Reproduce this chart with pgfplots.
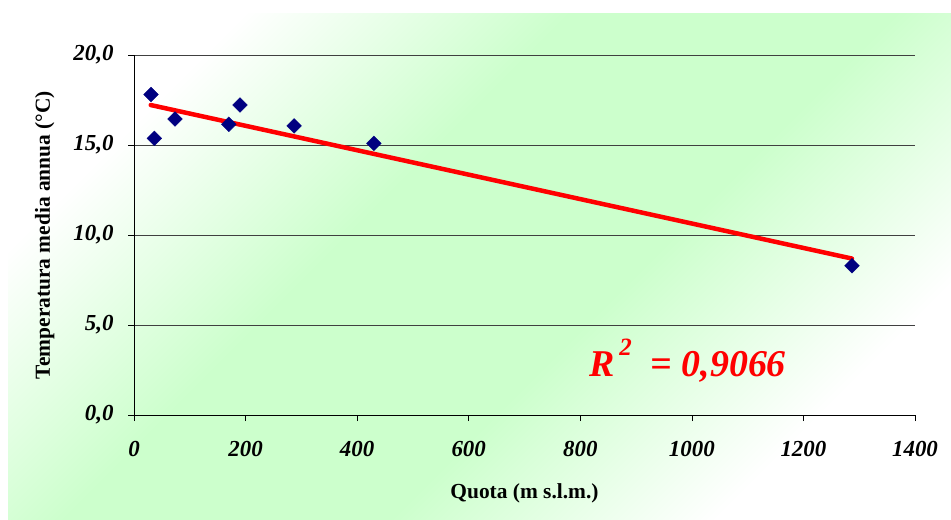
\documentclass[border=0pt]{standalone}
\usepackage{fontspec}
\setmainfont{Liberation Serif}
\usepackage{pgfplots}
\pgfplotsset{compat=1.18}
\definecolor{bggreen}{RGB}{204,255,204}
\definecolor{navyblue}{RGB}{0,0,128}
\pgfdeclareverticalshading{bgshade}{100bp}{color(0bp)=(white); color(26bp)=(white); color(42bp)=(bggreen); color(58bp)=(bggreen); color(74bp)=(white); color(100bp)=(white)}
\begin{document}
\begin{tikzpicture}
\path[use as bounding box] (0,0) rectangle (951bp,520bp);
\shade[shading=bgshade, shading angle=45] (8bp,0) rectangle (951bp,506bp);
\begin{axis}[
  at={(134bp,105bp)}, anchor=south west,
  scale only axis, width=781bp, height=360bp,
  xmin=0, xmax=1400, ymin=0, ymax=20,
  xtick={0,200,...,1400}, ytick={0,5,...,20},
  axis x line*=bottom, axis y line*=left,
  axis line style={black, line width=0.8pt, -},
  tick align=outside, major tick length=6bp,
  tick style={black, line width=0.6pt},
  ymajorgrids, grid style={black!75, line width=0.7pt},
  /pgf/number format/assume math mode=true,
  ticklabel style={font=\fontsize{23}{26}\selectfont\bfseries\itshape},
  yticklabel style={/pgf/number format/fixed, /pgf/number format/zerofill, /pgf/number format/precision=1, /pgf/number format/use comma, xshift=-11bp},
  xticklabel style={/pgf/number format/1000 sep={}, yshift=-17bp},
  xlabel={Quota (m s.l.m.)}, ylabel={Temperatura media annua (°C)},
  label style={font=\fontsize{21.5}{24}\selectfont\bfseries},
  xlabel style={yshift=-20bp},
  ylabel style={yshift=12bp},
  clip=false,
]
\addplot[red, line width=4.5bp, line cap=round] coordinates {(30,17.22) (1287,8.69)};
\addplot[only marks, mark=square*, mark size=5.2bp, mark options={rotate=45, navyblue, fill=navyblue}] coordinates {
(30.5,17.80) (36.4,15.37) (73.5,16.44) (170,16.15) (190,17.22) (287,16.06) (430,15.09) (1287,8.29)};
\node[text=red, font=\fontsize{38}{42}\selectfont\bfseries\itshape] at (axis cs:993,3.0) {R\raisebox{0.55em}{\fontsize{25}{28}\selectfont\,2}\ \ = 0,9066};
\end{axis}
\end{tikzpicture}
\end{document}
